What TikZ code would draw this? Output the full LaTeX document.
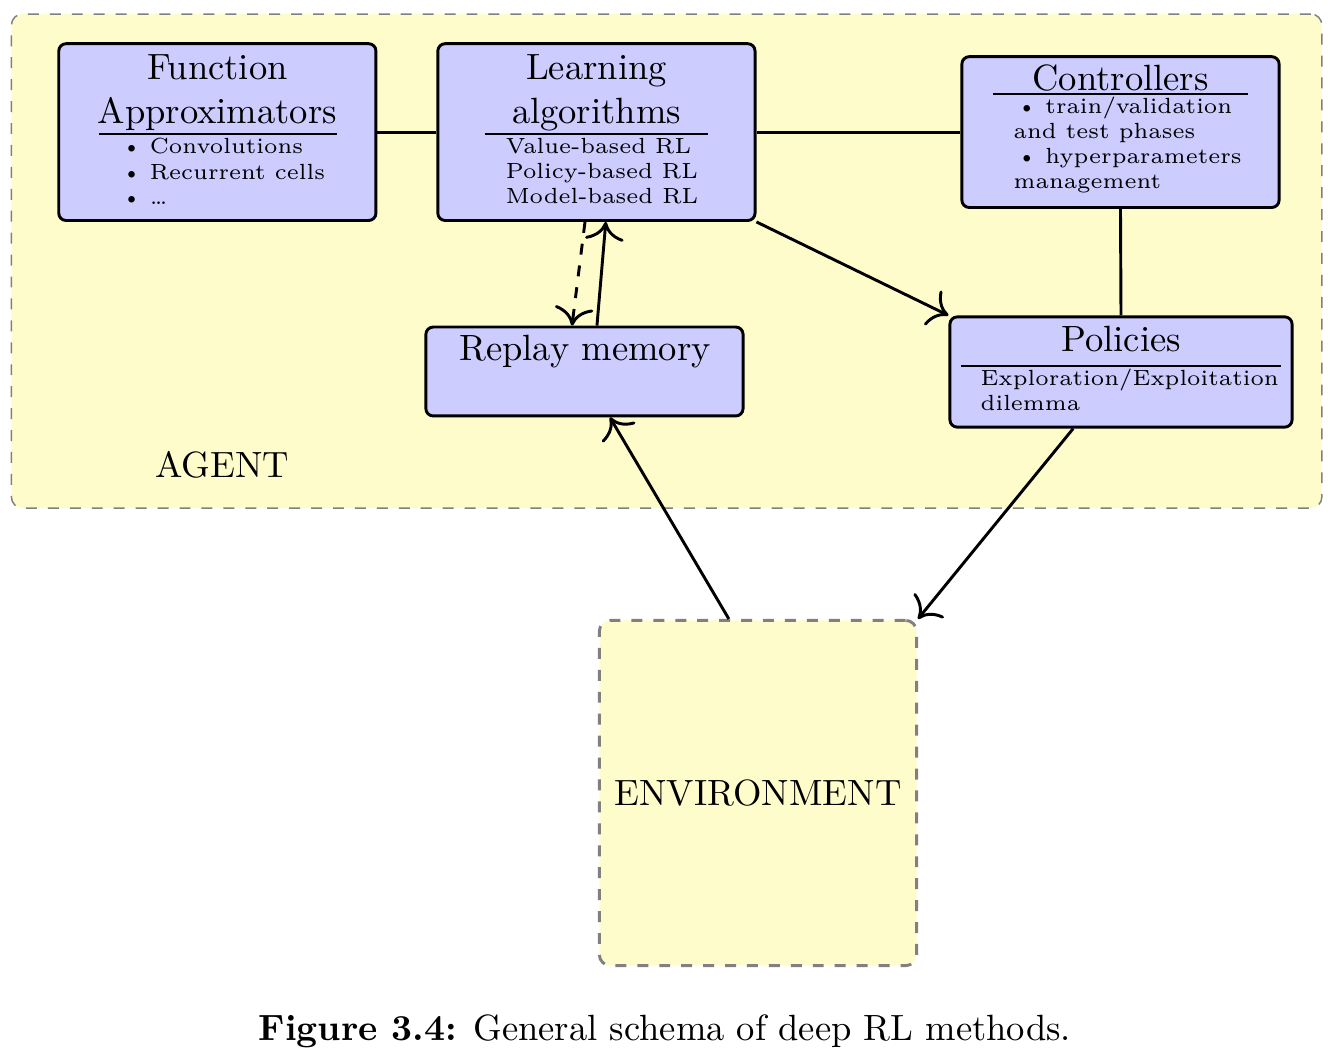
\documentclass[tikz,border=0pt]{standalone}
\usetikzlibrary{arrows.meta}
\begin{document}
\begin{tikzpicture}[block/.style={draw, thick, rounded corners=2pt, fill=blue!20,
                                  minimum width=\BoxW, minimum height=1.7cm},
                    zone/.style={draw=gray, dashed, rounded corners=3pt, fill=yellow!20},
                    heading/.style={inner sep=0, align=center, anchor=north},
                    small_text/.style={inner sep=0, align=left, anchor=north west,
                                       font=\fontsize{6}{6.85}\selectfont},
                    plain_link/.style={thick},
                    arrow/.style={-{To[scale=1.5]}, thick}
                    ]
        \newdimen\BoxW
        \BoxW=3.05cm
        \useasboundingbox (0,0) rectangle (12.856,-10.173);

        % agent area
        \node[zone, minimum width=12.6cm, minimum height=4.75cm] (Agent) at (6.41,-2.51) {};
        \node[anchor=base] (AgentText) at (2.135,-4.596) {AGENT};

        \node[block] (Fa) at (2.09,-1.27) {};
        \node[block] (La) at (5.735,-1.27) {};
        \node[block, minimum height=1.45cm] (Ctrl) at (10.774,-1.27) {};
        \node[block, minimum width=3.29cm, minimum height=1.06cm] (Pol) at (10.779,-3.577) {};
        \node[block, minimum height=0.855cm] (Mem) at (5.62,-3.572) {};

        % box contents
        \node[heading] (FaHead) at (2.09,-0.515) {Function\\Approximators};
        \draw (0.95,-1.288) -- (3.24,-1.288);
        \node[small_text] (FaList) at (1.16,-1.325)
            {\makebox[7.8pt][l]{\textbullet}Convolutions\\
             \makebox[7.8pt][l]{\textbullet}Recurrent cells\\
             \makebox[7.8pt][l]{\textbullet}\dots};

        \node[heading] (LaHead) at (5.735,-0.515) {Learning\\algorithms};
        \draw (4.663,-1.288) -- (6.808,-1.288);
        \node[small_text] (LaList) at (4.856,-1.325) {Value-based RL\\Policy-based RL\\Model-based RL};

        \node[heading] (CtrlHead) at (10.774,-0.62) {Controllers};
        \draw (9.548,-0.904) -- (12.0,-0.904);
        \node[small_text] (CtrlList) at (9.74,-0.929)
            {\hspace*{0.8pt}\makebox[7.9pt][l]{\textbullet}train/validation\\
             and test phases\\
             \hspace*{0.8pt}\makebox[7.9pt][l]{\textbullet}hyperparameters\\
             management};

        \node[heading] (PolHead) at (10.78,-3.125) {Policies};
        \draw (9.24,-3.519) -- (12.317,-3.519);
        \node[small_text] (PolList) at (9.423,-3.544) {Exploration/Exploitation\\dilemma};

        \node[heading] (MemHead) at (5.625,-3.217) {Replay memory};

        % environment
        \node[zone, thick, minimum width=3.05cm, minimum height=3.32cm] (Env) at (7.288,-7.625) {ENVIRONMENT};

        \draw[plain_link] (Fa.east) -- (La.west);
        \draw[plain_link] (La.east) -- (Ctrl.west);
        \draw[plain_link] (Ctrl.south) -- (Pol.north);
        \draw[arrow] (La.south east) -- (Pol.north west);
        \draw[arrow, dashed] ([xshift=-0.11cm]La.south) -- ([xshift=-0.12cm]Mem.north);
        \draw[arrow] ([xshift=0.12cm]Mem.north) -- ([xshift=0.09cm]La.south);
        \draw[arrow] ([xshift=-0.28cm]Env.north) -- ([xshift=0.245cm]Mem.south);
        \draw[arrow] ([xshift=-0.46cm]Pol.south) -- (Env.north east);

        \node[anchor=base] (Caption) at (6.394,-10.0) {\textbf{Figure 3.4:} General schema of deep RL methods.};
    \end{tikzpicture}
\end{document}
